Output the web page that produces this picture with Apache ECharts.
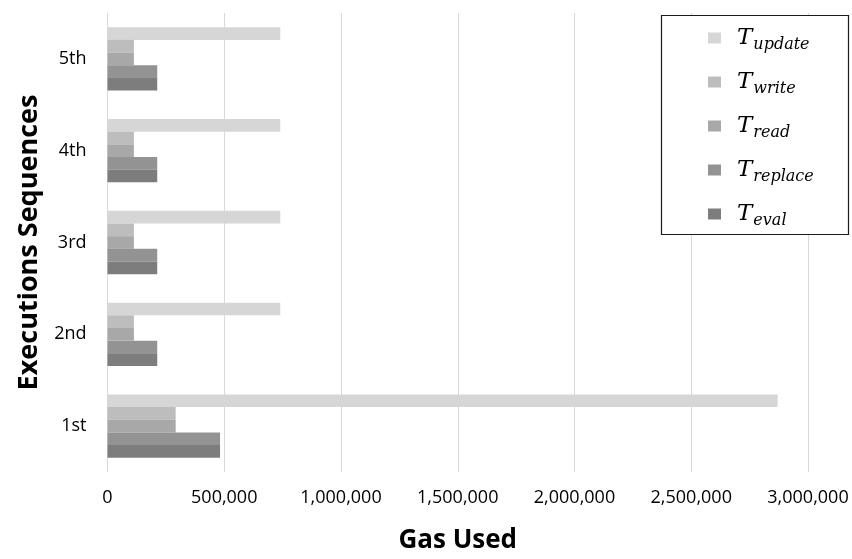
<!DOCTYPE html>
<html>
<head>
<meta charset="utf-8">
<script src="https://cdn.jsdelivr.net/npm/echarts@6/dist/echarts.min.js"></script>
<style>
  html, body { margin: 0; padding: 0; background: #fff; }
  #chart { width: 852px; height: 559px; }
</style>
</head>
<body>
<div id="chart"></div>
<script>
// Execution rounds on the category axis (bottom to top)
const sequences = ['1st', '2nd', '3rd', '4th', '5th'];

// Gas used per operation type, one value per execution round
const tUpdate  = [2870000, 740000, 740000, 740000, 740000];
const tWrite   = [292000, 113000, 113000, 113000, 113000];
const tRead    = [292000, 113000, 113000, 113000, 113000];
const tReplace = [482000, 213000, 213000, 213000, 213000];
const tEval    = [482000, 213000, 213000, 213000, 213000];

// Subscript part of each operation's T label
const subscripts = ['update', 'write', 'read', 'replace', 'eval'];
const barColors = ['#d6d6d6', '#bdbdbd', '#a8a8a8', '#939393', '#7d7d7d'];

// x-axis ticks
const xMin = 0, xMax = 3000000, xStep = 500000;

const seriesValues = [tUpdate, tWrite, tRead, tReplace, tEval];

const chart = echarts.init(document.getElementById('chart'));

const series = subscripts.map((sub, i) => ({
  name: sub,
  type: 'bar',
  data: seriesValues[i],
  barGap: '0%',
  barCategoryGap: '31%',
  itemStyle: { color: barColors[i] },
  emphasis: { disabled: true }
}));

chart.setOption({
  animation: false,
  backgroundColor: '#ffffff',
  grid: { left: 107.5, right: 44, top: 13, bottom: 84, containLabel: false },
  xAxis: {
    type: 'value',
    min: xMin, max: xMax, interval: xStep,
    name: 'Gas Used',
    nameLocation: 'middle',
    nameGap: 56,
    nameTextStyle: { fontFamily: 'Open Sans', fontWeight: 'bold', fontSize: 26, color: '#000' },
    axisLine: { show: false },
    axisTick: { show: false },
    axisLabel: {
      margin: 17,
      fontFamily: 'Open Sans', fontSize: 18, color: '#000',
      formatter: v => v.toLocaleString('en-US')
    },
    splitLine: { show: true, lineStyle: { color: '#d9d9d9', width: 1 } }
  },
  yAxis: {
    type: 'category',
    data: sequences,
    name: 'Executions Sequences',
    nameLocation: 'middle',
    nameGap: 64,
    nameTextStyle: { fontFamily: 'Open Sans', fontWeight: 'bold', fontSize: 27, color: '#000' },
    axisLine: { show: false },
    axisTick: { show: false },
    axisLabel: { margin: 21, fontFamily: 'Open Sans', fontSize: 18, color: '#000' },
    splitLine: { show: false }
  },
  legend: {
    orient: 'vertical',
    left: 703, top: 18,
    itemWidth: 13, itemHeight: 11,
    itemGap: 14,
    icon: 'rect',
    data: subscripts,
    textStyle: {
      rich: {
        t: { fontFamily: 'DejaVu Serif', fontStyle: 'italic', fontSize: 23, lineHeight: 30, color: '#000', padding: [0, 0, 0, 11] },
        s: { fontFamily: 'DejaVu Serif', fontStyle: 'italic', fontSize: 16, lineHeight: 16, color: '#000', padding: [14, 0, 0, 1] }
      }
    },
    formatter: name => '{t|T}{s|' + name + '}'
  },
  graphic: [{
    type: 'rect',
    z: 3,
    shape: { x: 661.5, y: 15.5, width: 187, height: 219 },
    style: { fill: '#ffffff', stroke: '#1a1a1a', lineWidth: 1.2 }
  }],
  series: series
});
</script>
</body>
</html>
